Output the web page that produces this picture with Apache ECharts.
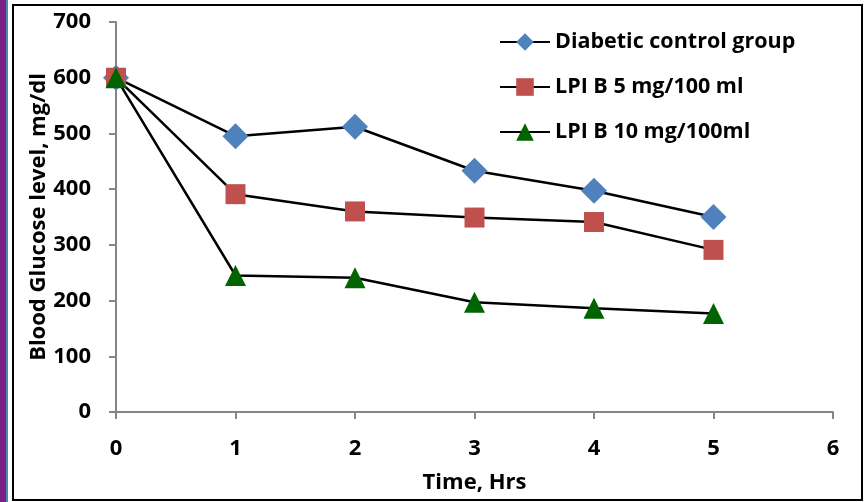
<!DOCTYPE html>
<html><head><meta charset="utf-8">
<script src="https://cdn.jsdelivr.net/npm/echarts@6/dist/echarts.min.js"></script>
<style>html,body{margin:0;padding:0;background:#fff}#c{width:865px;height:502px}</style>
</head><body><div id="c"></div>
<script>
var hours = [0, 1, 2, 3, 4, 5];
var diabeticControl = [600, 495, 512, 433, 397, 350];
var lpi5 = [600, 391, 360, 349, 341, 291];
var lpi10 = [600, 245, 241, 197, 186, 177];
var seriesNames = ['Diabetic control group', 'LPI B 5 mg/100 ml', 'LPI B 10 mg/100ml'];
var yTicks = [0, 100, 200, 300, 400, 500, 600, 700];
var xTicks = [0, 1, 2, 3, 4, 5, 6];

function pairs(xs, ys){ return xs.map(function(x,i){ return [x, ys[i]]; }); }
var FONT = '"Open Sans"';
var chart = echarts.init(document.getElementById('c'), null, {renderer:'canvas'});
var axisGray = '#868686';
function mk(name, data, symbol, size, color){
  return {
    name: name, type: 'line', data: pairs(hours, data),
    symbol: symbol, symbolSize: size, showAllSymbol: true,
    lineStyle: {color: '#000', width: 2.5},
    itemStyle: {color: color},
    emphasis: {disabled: true}, animation: false, z: 3
  };
}
chart.setOption({
  animation: false,
  backgroundColor: '#fff',
  graphic: [
    {type:'rect', shape:{x:0,y:0,width:6,height:502}, style:{fill:'#7a1f86'}, z:-1},
    {type:'rect', shape:{x:6,y:0,width:2,height:502}, style:{fill:'#4f81bd'}, z:-1},
    {type:'rect', shape:{x:13,y:5,width:849,height:495}, style:{fill:'none', stroke:'#000', lineWidth:2}, z:-1}
  ],
  grid: {left:116, right:32, top:22, bottom:90, containLabel:false},
  legend: {
    left: 494, top: 26, orient: 'vertical', itemGap: 23,
    itemWidth: 50, itemHeight: 22,
    textStyle: {fontFamily: FONT, fontWeight: 'bold', fontSize: 21.5, color: '#000'},
    data: seriesNames
  },
  xAxis: {
    type: 'value', min: 0, max: 6, interval: 1,
    name: 'Time, Hrs', nameLocation: 'middle', nameGap: 60, nameMoveOverlap: false,
    nameTextStyle: {fontFamily: FONT, fontWeight: 'bold', fontSize: 22, color: '#000'},
    axisLine: {show: true, onZero: false, lineStyle: {color: axisGray, width: 2}},
    axisTick: {show: true, length: 7, inside: false, lineStyle: {color: axisGray, width: 2}},
    axisLabel: {fontFamily: FONT, fontWeight: 'bold', fontSize: 22, color: '#000', margin: 26,
      formatter: function(v){ return xTicks.indexOf(v) >= 0 ? String(v) : ''; }},
    splitLine: {show: false}
  },
  yAxis: {
    type: 'value', min: 0, max: 700, interval: 100,
    name: 'Blood Glucose level, mg/dl', nameLocation: 'middle', nameGap: 66, nameRotate: 90,
    nameMoveOverlap: false,
    nameTextStyle: {fontFamily: FONT, fontWeight: 'bold', fontSize: 22, color: '#000'},
    axisLine: {show: true, lineStyle: {color: axisGray, width: 2}},
    axisTick: {show: true, length: 7, inside: false, lineStyle: {color: axisGray, width: 2}},
    axisLabel: {fontFamily: FONT, fontWeight: 'bold', fontSize: 22, color: '#000', margin: 25,
      formatter: function(v){ return yTicks.indexOf(v) >= 0 ? String(v) : ''; }},
    splitLine: {show: false}
  },
  series: [
    mk(seriesNames[0], diabeticControl, 'diamond', 26, '#4f81bd'),
    mk(seriesNames[1], lpi5, 'rect', 20, '#c0504d'),
    mk(seriesNames[2], lpi10, 'triangle', 21, '#006400')
  ]
});
</script></body></html>
